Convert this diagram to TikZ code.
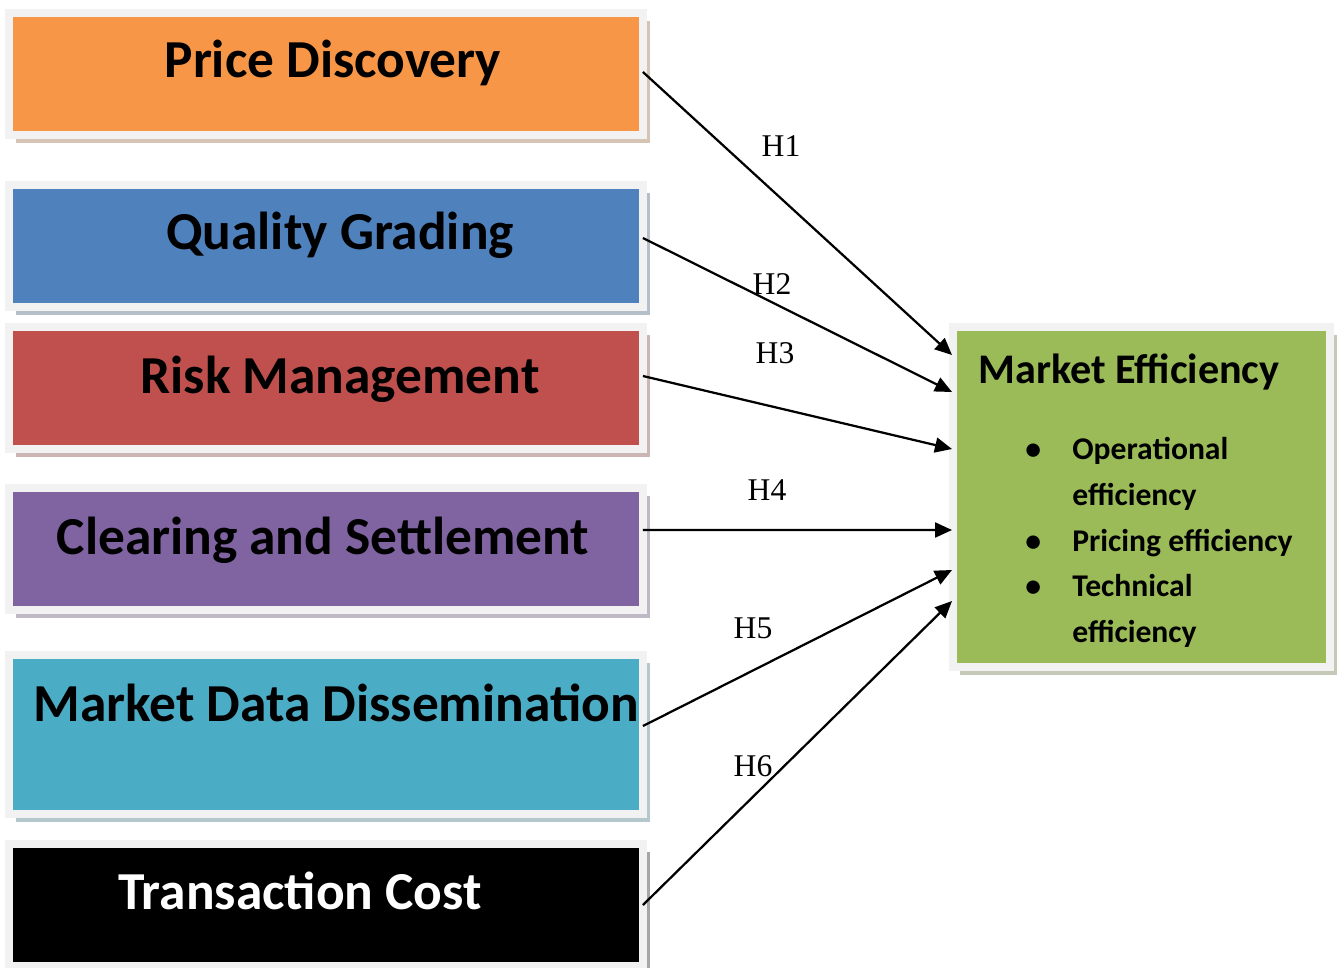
\documentclass[tikz,border=0pt]{standalone}
\usepackage{fontspec}
\setmainfont{Carlito}
\newfontfamily\hypfont{Liberation Serif}
\usepackage{tikz}
\usetikzlibrary{arrows.meta, shadows}

\definecolor{pdorange}{HTML}{F79646}
\definecolor{qgblue}{HTML}{4F81BD}
\definecolor{rmred}{HTML}{C0504D}
\definecolor{cspurple}{HTML}{8064A2}
\definecolor{mdaqua}{HTML}{4BACC6}
\definecolor{megreen}{HTML}{9BBB59}
\definecolor{framegray}{HTML}{F2F2F2}

\begin{document}
\begin{tikzpicture}[x=0.02cm, y=-0.02cm,
    factor/.style={rectangle, draw=framegray, line width=0.16cm, fill=#1,
        minimum width=12.68cm, minimum height=2.44cm, inner sep=0pt, outer sep=0pt,
        general shadow={fill=#1!55!black!35, shadow xshift=0.14cm, shadow yshift=-0.16cm}},
    boxtext/.style={anchor=base, font=\fontsize{30.4}{36}\selectfont\bfseries},
    hyp/.style={line width=0.045cm, -{Triangle[length=0.34cm, width=0.3cm]}},
    hlabel/.style={font=\hypfont\fontsize{18}{22}\selectfont}]
    \useasboundingbox (0,0) rectangle (1341,967);

    % factor boxes on the left
    \node[factor=pdorange] at (326, 74)  (pd) {};
    \node[factor=qgblue]   at (326, 246) (qg) {};
    \node[factor=rmred]    at (326, 388) (rm) {};
    \node[factor=cspurple] at (326, 549) (cs) {};
    \node[factor=mdaqua, minimum height=3.18cm] at (326, 734.5) (md) {};
    \node[factor=black]    at (326, 905) (tc) {};

    \node[boxtext] at (333, 77)  (pdtext) {Price Discovery};
    \node[boxtext] at (340, 249) (qgtext) {Quality Grading};
    \node[boxtext] at (340, 393) (rmtext) {Risk Management};
    \node[boxtext] at (323, 554) (cstext) {Clearing and Settlement};
    \node[boxtext] at (336, 721) (mdtext) {Market Data Dissemination};
    \node[boxtext, text=white] at (300, 909) (tctext) {Transaction Cost};

    % outcome box
    \node[factor=megreen, minimum width=7.54cm, minimum height=6.8cm] at (1141.5, 497) (me) {};
    \node[anchor=base west, inner sep=0pt, font=\fontsize{24}{29}\selectfont\bfseries] at (978, 383) (metitle) {Market Efficiency};
    \node[anchor=west, inner sep=0pt, font=\fontsize{18}{26}\selectfont\bfseries] at (1025, 542) (melist) {%
        \begin{tabular}{@{}l@{}l@{}}
            \makebox[0.94cm][l]{\textbullet} & Operational \\
            & efficiency \\
            \textbullet & Pricing efficiency \\
            \textbullet & Technical \\
            & efficiency
        \end{tabular}};

    \coordinate (me1) at (952, 355);
    \coordinate (me2) at (952, 392);
    \coordinate (me3) at (952, 449);
    \coordinate (me4) at (952, 530);
    \coordinate (me5) at (952, 570);
    \coordinate (me6) at (952, 601);

    % hypotheses
    \draw[hyp] ([yshift=0.04cm]pd.east) -- (me1);
    \draw[hyp] ([yshift=0.16cm]qg.east) -- (me2);
    \draw[hyp] ([yshift=0.24cm]rm.east) -- (me3);
    \draw[hyp] ([yshift=0.38cm]cs.east) -- (me4);
    \draw[hyp] ([yshift=0.17cm]md.east) -- (me5);
    \draw[hyp] (tc.east) -- (me6);

    \node[hlabel] at (781, 146) (h1) {H1};
    \node[hlabel] at (772, 284) (h2) {H2};
    \node[hlabel] at (775, 353) (h3) {H3};
    \node[hlabel] at (767, 490) (h4) {H4};
    \node[hlabel] at (753, 628) (h5) {H5};
    \node[hlabel] at (753, 766) (h6) {H6};
\end{tikzpicture}
\end{document}
